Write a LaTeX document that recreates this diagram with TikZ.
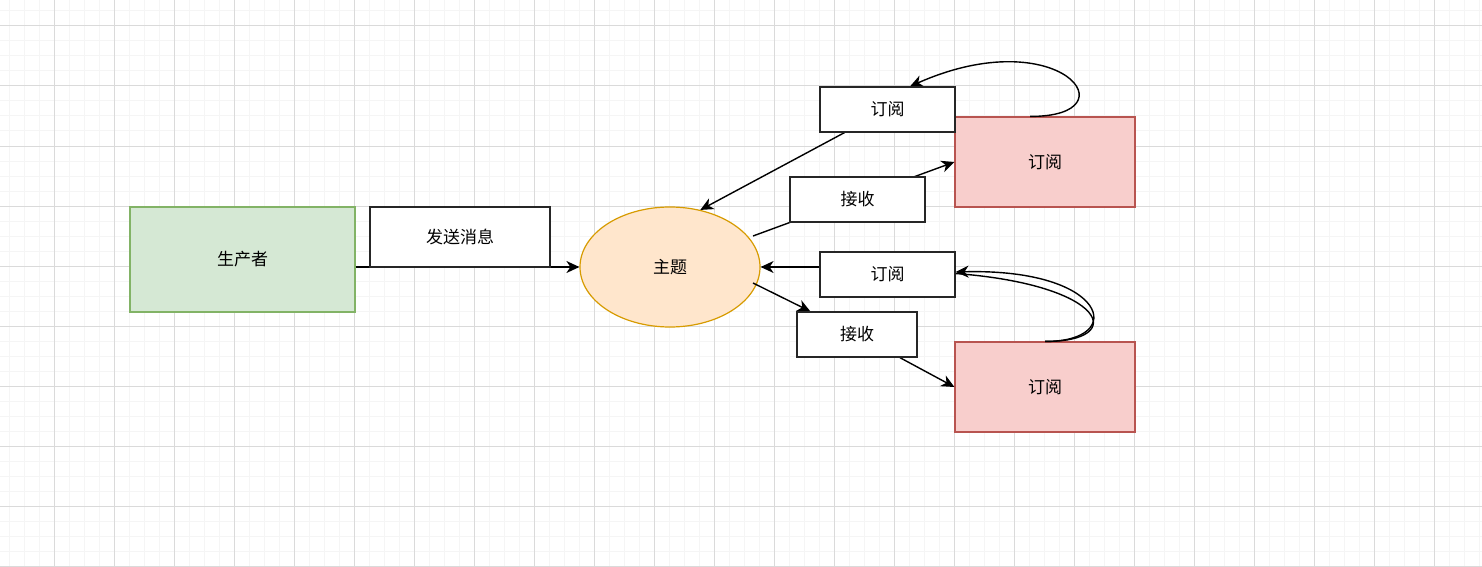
\documentclass[tikz,border=0pt]{standalone}
\usepackage{fontspec}
\newfontfamily\cjk{Noto Sans CJK SC}
\usetikzlibrary{arrows.meta,shapes.geometric,calc}
\definecolor{prodfill}{HTML}{D5E8D4}
\definecolor{proddraw}{HTML}{82B366}
\definecolor{topicfill}{HTML}{FFE6CC}
\definecolor{topicdraw}{HTML}{D79B00}
\definecolor{subfill}{HTML}{F8CECC}
\definecolor{subdraw}{HTML}{B85450}
\definecolor{gridminor}{HTML}{F5F5F5}
\definecolor{gridmajor}{HTML}{DADADA}
\pgfdeclarelayer{grid}
\pgfdeclarelayer{labels}
\pgfsetlayers{grid,main,labels}
\tikzset{
  txt/.style={font=\cjk\fontsize{17}{20}\selectfont, inner sep=0pt},
  box/.style={txt, draw, rectangle, line width=1.2pt},
  lbl/.style={box, draw=black!85, fill=white, minimum height=45pt},
  arr/.style={line width=1.4pt, -{Stealth[length=13pt,width=12pt,inset=4pt]}},
  line/.style={line width=1.4pt},
}
\begin{document}
\begin{tikzpicture}[x=1pt, y=-1pt]
\useasboundingbox (0,0) rectangle (1482,567);
% grid
\begin{pgfonlayer}{grid}
\fill[white] (0,0) rectangle (1482,567);
\foreach \x in {9,24,...,1482} \draw[gridminor, line width=1pt] (\x,0) -- (\x,567);
\foreach \y in {11,26,...,567} \draw[gridminor, line width=1pt] (0,\y) -- (1482,\y);
\foreach \x in {54,114,...,1482} \draw[gridmajor, line width=1pt] (\x,0) -- (\x,567);
\foreach \y in {26,86,...,567} \draw[gridmajor, line width=1pt] (0,\y) -- (1482,\y);
\end{pgfonlayer}
% shapes
\node[box, draw=proddraw, fill=prodfill, minimum width=225pt, minimum height=105pt] (prod) at (242.5,259.5) {生产者};
\node[txt, ellipse, draw=topicdraw, fill=topicfill, line width=1.2pt, minimum width=180pt, minimum height=120pt] (topic) at (670,267) {主题};
\node[box, draw=subdraw, fill=subfill, minimum width=180pt, minimum height=90pt] (red1) at (1045,162) {订阅};
\node[box, draw=subdraw, fill=subfill, minimum width=180pt, minimum height=90pt] (red2) at (1045,387) {订阅};
% edge labels
\begin{pgfonlayer}{labels}
\node[lbl, minimum width=180pt, minimum height=60pt] (send) at (460,237) {发送消息};
\node[lbl, minimum width=135pt] (sub1) at (887.5,109.5) {订阅};
\node[lbl, minimum width=135pt] (recv1) at (857.5,199.5) {接收};
\node[lbl, minimum width=135pt] (sub2) at (887.5,274.5) {订阅};
\node[lbl, minimum width=120pt] (recv2) at (857,334.5) {接收};
\end{pgfonlayer}
% connectors
\draw[arr] (prod.east |- topic.west) -- (topic.west);
\draw[arr] ([xshift=-15pt]red1.north) .. controls (1135,117) and (1060,20) .. ([xshift=22.5pt]sub1.north);
\draw[arr] (sub1) -- (topic.62);
\draw[arr] ($(topic.center)+(83,-31)$) -- (red1.west);
\draw[arr] (sub2.west |- topic.east) -- (topic.east);
\draw[line] (red2.north) .. controls (1128,342) and (1108,285) .. ([yshift=1pt]sub2.east);
\draw[arr] (red2.north) .. controls (1128,342) and (1108,268) .. ([yshift=2.5pt]sub2.east);
\draw[arr] ($(topic.center)+(83,16)$) -- (recv2);
\draw[arr] (recv2) -- (red2.west);
\end{tikzpicture}
\end{document}
